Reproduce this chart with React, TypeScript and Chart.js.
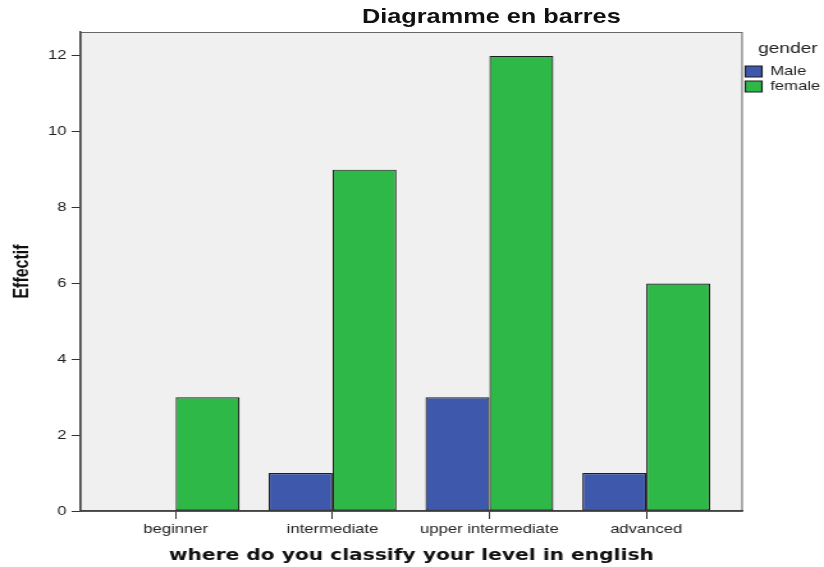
import React, { useEffect, useRef } from "react";
import { Chart, registerables } from "chart.js";

Chart.register(...registerables);

const categories = ["beginner", "intermediate", "upper intermediate", "advanced"];
const maleCounts = [0, 1, 3, 1];
const femaleCounts = [3, 9, 12, 6];
const yTickValues = [0, 2, 4, 6, 8, 10, 12];
const seriesNames = ["Male", "female"];
const titleText = "Diagramme en barres";
const xTitle = "where do you classify your level in english";
const yTitle = "Effectif";
const legendTitle = "gender";

const W = 644;
const H = 567;
const SCALE_X = 824 / W;

const plotFrame = {
  id: "plotFrame",
  beforeDraw(chart: any) {
    const { ctx, chartArea } = chart;
    if (!chartArea) return;
    ctx.save();
    ctx.fillStyle = "#f0f0f0";
    ctx.fillRect(chartArea.left, chartArea.top, chartArea.right - chartArea.left, chartArea.bottom - chartArea.top);
    ctx.strokeStyle = "#666666";
    ctx.lineWidth = 1;
    ctx.strokeRect(chartArea.left + 0.5, chartArea.top + 0.5, chartArea.right - chartArea.left - 1, chartArea.bottom - chartArea.top);
    ctx.restore();
  },
};

export default function App() {
  const ref = useRef<HTMLCanvasElement | null>(null);

  useEffect(() => {
    if (!ref.current) return;
    const tickFont = { family: "Liberation Sans", size: 13 };
    const chart = new Chart(ref.current, {
      type: "bar",
      data: {
        datasets: [
          {
            label: seriesNames[0],
            data: maleCounts.map((v, i) => ({ x: i, y: v })),
            backgroundColor: "#3e58ac",
            borderColor: "#1e1e1e",
            borderWidth: 1.2,
            borderSkipped: false,
          },
          {
            label: seriesNames[1],
            data: femaleCounts.map((v, i) => ({ x: i, y: v })),
            backgroundColor: "#2eb848",
            borderColor: "#1e1e1e",
            borderWidth: 1.2,
            borderSkipped: false,
          },
        ],
      },
      options: {
        animation: false,
        responsive: false,
        devicePixelRatio: 1,
        layout: { padding: { left: 0, right: -7, top: 32, bottom: 0 } },
        datasets: {
          bar: { categoryPercentage: 0.815, barPercentage: 1 },
        },
        plugins: {
          tooltip: { enabled: false },
          title: { display: false },
          legend: {
            display: true,
            position: "right",
            align: "start",
            title: {
              display: true,
              text: legendTitle,
              color: "#222",
              position: "center",
              font: { family: "Liberation Sans", size: 15 },
              padding: { top: 9, bottom: 4 },
            },
            labels: {
              boxWidth: 13,
              boxHeight: 11,
              padding: 2,
              color: "#222",
              font: { family: "Liberation Sans", size: 13 },
            },
          },
        },
        scales: {
          x: {
            type: "linear",
            min: -0.61,
            max: 3.615,
            offset: false,
            afterBuildTicks: (s: any) => {
              s.ticks = categories.map((_, i) => ({ value: i }));
            },
            afterFit: (s: any) => {
              s.height = 56;
            },
            ticks: {
              callback: (v: any) => categories[v as number] ?? "",
              font: tickFont,
              color: "#222",
              padding: 3,
              maxRotation: 0,
              autoSkip: false,
            },
            grid: {
              display: true,
              offset: false,
              drawOnChartArea: false,
              drawTicks: true,
              tickLength: 8,
              color: "#333",
              lineWidth: 1,
            },
            border: { display: true, color: "#444", width: 1.5 },
            title: {
              display: true,
              text: xTitle,
              color: "#111",
              font: { family: "DejaVu Sans", weight: "bold", size: 15.8 },
              padding: { top: 0, bottom: 2 },
            },
          },
          y: {
            type: "linear",
            min: 0,
            max: 12.63,
            afterBuildTicks: (s: any) => {
              s.ticks = yTickValues.map((v) => ({ value: v }));
            },
            afterFit: (s: any) => {
              s.width = 62.5;
            },
            ticks: { font: tickFont, color: "#222", padding: 4 },
            grid: {
              display: true,
              drawOnChartArea: false,
              drawTicks: true,
              tickLength: 6.5,
              color: "#333",
              lineWidth: 1,
            },
            border: { display: true, color: "#444", width: 1.5 },
            title: {
              display: true,
              text: yTitle,
              color: "#111",
              font: { family: "Liberation Sans", weight: "bold", size: 16 },
              padding: { top: 8, bottom: 0 },
            },
          },
        },
      },
      plugins: [plotFrame],
    } as any);
    return () => chart.destroy();
  }, []);

  return (
    <div
      style={{
        position: "fixed",
        left: 0,
        top: 0,
        width: W,
        height: H,
        background: "#ffffff",
        transform: `scaleX(${SCALE_X})`,
        transformOrigin: "0 0",
      }}
    >
      <canvas ref={ref} width={W} height={H} style={{ width: W, height: H, display: "block" }} />
      <div
        style={{
          position: "absolute",
          left: 0,
          top: 6,
          width: 768,
          textAlign: "center",
          fontFamily: "Liberation Sans",
          fontWeight: "bold",
          fontSize: 19.8,
          lineHeight: "20px",
          color: "#111",
        }}
      >
        {titleText}
      </div>
    </div>
  );
}
